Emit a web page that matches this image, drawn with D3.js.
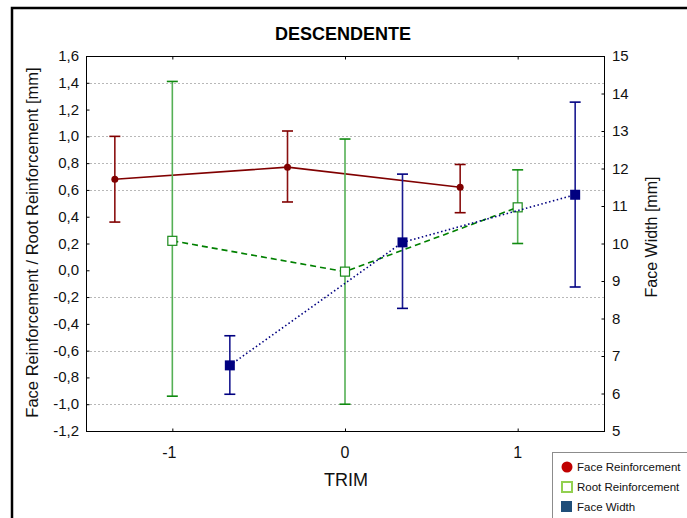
<!DOCTYPE html>
<html><head><meta charset="utf-8">
<script src="https://cdn.jsdelivr.net/npm/d3@7"></script>
<style>body{margin:0;background:#fff}svg{display:block}</style>
</head><body>
<script>
// ---- data ----
const title = "DESCENDENTE";
const xTicks = [-1, 0, 1];
const leftTicks = [-1.2,-1.0,-0.8,-0.6,-0.4,-0.2,0,0.2,0.4,0.6,0.8,1.0,1.2,1.4,1.6];
const rightTicks = [5,6,7,8,9,10,11,12,13,14,15];
const gridValues = [1.4, 1.0, 0.8, 0.6, -0.2, -0.6, -1.0];

const faceReinfX = [-1.333, -0.333, 0.667];
const faceReinfMean = [0.68, 0.77, 0.62];
const faceReinfLow = [0.36, 0.51, 0.43];
const faceReinfHigh = [1.00, 1.04, 0.79];

const rootReinfX = [-1, 0, 1];
const rootReinfMean = [0.22, -0.01, 0.47];
const rootReinfLow = [-0.94, -1.00, 0.20];
const rootReinfHigh = [1.41, 0.98, 0.75];

const faceWidthX = [-0.667, 0.333, 1.333];
const faceWidthMean = [6.75, 10.03, 11.30];
const faceWidthLow = [5.98, 8.27, 8.84];
const faceWidthHigh = [7.54, 11.85, 13.77];

const legendLabels = ["Face Reinforcement", "Root Reinforcement", "Face Width"];

// ---- drawing ----
const W = 687, H = 518;
const P = {l: 86, r: 604, t: 56, b: 431};
const svg = d3.select("body").append("svg").attr("width", W).attr("height", H)
  .style("font-family", "'Liberation Sans', Arial, sans-serif");

const x = d3.scaleLinear().domain([-1.5, 1.5]).range([P.l, P.r]);
const yL = d3.scaleLinear().domain([-1.2, 1.6]).range([P.b, P.t]);
const yR = d3.scaleLinear().domain([5, 15]).range([P.b, P.t]);

// outer frame
svg.append("rect").attr("x", 12).attr("y", 8).attr("width", 720).attr("height", 600)
  .attr("fill", "none").attr("stroke", "#000").attr("stroke-width", 2.5);

// title
svg.append("text").attr("x", 343).attr("y", 40).attr("text-anchor", "middle")
  .attr("font-size", 18).attr("font-weight", "bold").text(title);

// gridlines
svg.append("g").selectAll("line").data(gridValues).join("line")
  .attr("x1", P.l).attr("x2", P.r).attr("y1", d => Math.round(yL(d)) + 0.5).attr("y2", d => Math.round(yL(d)) + 0.5)
  .attr("stroke", "#b8b8b8").attr("stroke-width", 1).attr("stroke-dasharray", "2,2");

// plot frame
svg.append("rect").attr("x", P.l + 0.5).attr("y", P.t + 0.5).attr("width", P.r - P.l).attr("height", P.b - P.t)
  .attr("fill", "none").attr("stroke", "#000").attr("stroke-width", 1);

const fmt = d => d3.format(".1f")(d).replace(".", ",").replace("−", "-");

// left axis
const gL = svg.append("g").attr("transform", `translate(${P.l + 0.5},0)`)
  .call(d3.axisRight(yL).tickValues(leftTicks).tickSize(3).tickFormat(""));
gL.select(".domain").remove();
svg.append("g").selectAll("text").data(leftTicks).join("text")
  .attr("x", 79).attr("y", d => yL(d) + 5).attr("text-anchor", "end")
  .attr("font-size", 15).attr("fill", "#111").text(d => fmt(d));

// right axis
const gR = svg.append("g").attr("transform", `translate(${P.r + 0.5},0)`)
  .call(d3.axisLeft(yR).tickValues(rightTicks).tickSize(3).tickFormat(""));
gR.select(".domain").remove();
svg.append("g").selectAll("text").data(rightTicks).join("text")
  .attr("x", 612).attr("y", d => yR(d) + 5).attr("text-anchor", "start")
  .attr("font-size", 15).attr("fill", "#111").text(d => d);

// x axis (bottom & top ticks)
const gB = svg.append("g").attr("transform", `translate(0,${P.b + 0.5})`)
  .call(d3.axisTop(x).tickValues(xTicks).tickSize(3).tickFormat(""));
gB.select(".domain").remove();
const gT = svg.append("g").attr("transform", `translate(0,${P.t + 0.5})`)
  .call(d3.axisBottom(x).tickValues(xTicks).tickSize(3).tickFormat(""));
gT.select(".domain").remove();
svg.append("g").selectAll("text").data(xTicks).join("text")
  .attr("x", d => x(d) - (d < 0 ? 3 : 0)).attr("y", 458).attr("text-anchor", "middle")
  .attr("font-size", 16).attr("fill", "#111").text(d => d);

// axis titles
svg.append("text").attr("x", 346).attr("y", 486).attr("text-anchor", "middle")
  .attr("font-size", 18).attr("fill", "#111").text("TRIM");
svg.append("text").attr("transform", `translate(38,${(P.t + P.b) / 2 - 1}) rotate(-90)`)
  .attr("text-anchor", "middle").attr("font-size", 16.5).attr("fill", "#111")
  .text("Face Reinforcement / Root Reinforcement [mm]");
svg.append("text").attr("transform", `translate(657,237) rotate(-90)`)
  .attr("text-anchor", "middle").attr("font-size", 16).attr("fill", "#111")
  .text("Face Width [mm]");

// series helpers
function series(xs, means, lows, highs, ys, opt) {
  const pts = xs.map((d, i) => ({x: d, m: means[i], lo: lows[i], hi: highs[i]}));
  const line = d3.line().x(d => x(d.x)).y(d => ys(d.m)).curve(d3.curveLinear);
  svg.append("path").datum(pts).attr("d", line).attr("fill", "none")
    .attr("stroke", opt.line).attr("stroke-width", 1.6)
    .attr("stroke-dasharray", opt.dash || null);
  const g = svg.append("g");
  g.selectAll(".eb").data(pts).join("line")
    .attr("x1", d => x(d.x)).attr("x2", d => x(d.x))
    .attr("y1", d => ys(d.lo)).attr("y2", d => ys(d.hi))
    .attr("stroke", opt.bar).attr("stroke-width", 1.6);
  ["lo", "hi"].forEach(k => {
    g.selectAll(".cap" + k).data(pts).join("line")
      .attr("x1", d => x(d.x) - 5.5).attr("x2", d => x(d.x) + 5.5)
      .attr("y1", d => ys(d[k])).attr("y2", d => ys(d[k]))
      .attr("stroke", opt.cap).attr("stroke-width", 1.6);
  });
  return {g, pts};
}

const fr = series(faceReinfX, faceReinfMean, faceReinfLow, faceReinfHigh, yL,
  {line: "#800000", bar: "#8a1010", cap: "#800000"});
fr.g.selectAll("circle").data(fr.pts).join("circle")
  .attr("cx", d => x(d.x)).attr("cy", d => yL(d.m)).attr("r", 3.5).attr("fill", "#800000");

const rr = series(rootReinfX, rootReinfMean, rootReinfLow, rootReinfHigh, yL,
  {line: "#008000", bar: "#55b055", cap: "#108a10", dash: "6,4"});
rr.g.selectAll("rect").data(rr.pts).join("rect")
  .attr("x", d => x(d.x) - 4.5).attr("y", d => yL(d.m) - 4.5).attr("width", 9).attr("height", 9)
  .attr("fill", "#fff").attr("stroke", "#1a8a1a").attr("stroke-width", 1.2);

const fw = series(faceWidthX, faceWidthMean, faceWidthLow, faceWidthHigh, yR,
  {line: "#000080", bar: "#1a1a90", cap: "#000080", dash: "1.5,2.5"});
fw.g.selectAll("rect").data(fw.pts).join("rect")
  .attr("x", d => x(d.x) - 5).attr("y", d => yR(d.m) - 5).attr("width", 10).attr("height", 10)
  .attr("fill", "#000080");

// legend
const lg = svg.append("g");
lg.append("rect").attr("x", 552.5).attr("y", 452.5).attr("width", 150).attr("height", 80)
  .attr("fill", "#fff").attr("stroke", "#8c8c8c").attr("stroke-width", 1);
const ly = [467, 487, 507];
lg.append("circle").attr("cx", 567).attr("cy", ly[0]).attr("r", 5.5).attr("fill", "#c00000");
lg.append("rect").attr("x", 562).attr("y", ly[1] - 5).attr("width", 10).attr("height", 10)
  .attr("fill", "#fff").attr("stroke", "#92d050").attr("stroke-width", 2);
lg.append("rect").attr("x", 561).attr("y", ly[2] - 6).attr("width", 11).attr("height", 11)
  .attr("fill", "#1f4e79");
lg.selectAll("text").data(legendLabels).join("text")
  .attr("x", 577).attr("y", (d, i) => ly[i] + 4).attr("font-size", 11.5).attr("fill", "#111")
  .text(d => d);
</script>
</body></html>
